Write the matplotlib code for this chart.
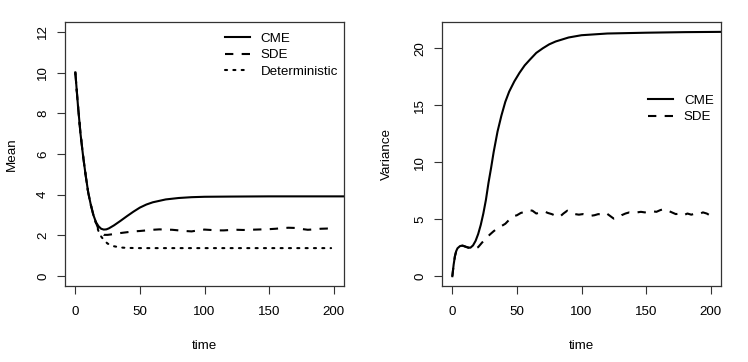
import numpy as np
import matplotlib
matplotlib.use("Agg")
import matplotlib.pyplot as plt

plt.rcParams['font.family'] = ['Liberation Sans', 'DejaVu Sans']
plt.rcParams['font.size'] = 9.6

# ---- Mean panel data ----
t_cme_mean = [0, 2, 4, 6, 8, 10, 12, 14, 16, 18, 20, 22, 24, 26, 30, 35, 40, 45,
              50, 55, 60, 70, 80, 90, 100, 120, 150, 180, 215]
cme_mean = [10.0, 8.4, 7.0, 5.9, 4.95, 4.1, 3.5, 3.0, 2.65, 2.45, 2.33, 2.29, 2.3,
            2.35, 2.5, 2.72, 2.95, 3.17, 3.37, 3.52, 3.63, 3.77, 3.84, 3.88, 3.9,
            3.91, 3.92, 3.92, 3.92]

t_sde_mean = [0, 2, 4, 6, 8, 10, 12, 14, 16, 18, 20, 22, 25, 30, 35, 40, 45, 50,
              55, 60, 65, 70, 75, 80, 85, 90, 95, 100, 105, 110, 115, 120, 125,
              130, 135, 140, 145, 150, 155, 160, 165, 170, 175, 180, 185, 190,
              195, 200]
sde_mean = [10.0, 8.4, 7.0, 5.9, 4.95, 4.1, 3.5, 3.0, 2.62, 2.3, 2.12, 2.03, 2.03,
            2.07, 2.12, 2.16, 2.2, 2.22, 2.25, 2.28, 2.3, 2.29, 2.28, 2.25, 2.22,
            2.2, 2.25, 2.29, 2.27, 2.25, 2.25, 2.27, 2.28, 2.27, 2.28, 2.29, 2.3,
            2.31, 2.33, 2.36, 2.38, 2.37, 2.32, 2.28, 2.3, 2.33, 2.34, 2.3]

t_det = [0, 2, 4, 6, 8, 10, 12, 14, 16, 18, 20, 22, 25, 30, 35, 40, 50, 100, 150, 198]
det_mean = [10.0, 8.4, 7.0, 5.9, 4.95, 4.1, 3.5, 3.0, 2.6, 2.2, 1.95, 1.78, 1.6,
            1.47, 1.41, 1.39, 1.38, 1.38, 1.38, 1.38]

# ---- Variance panel data ----
t_cme_var = [0, 1, 2, 3, 4, 6, 8, 10, 12, 14, 16, 18, 20, 22, 24, 26, 28, 30, 32,
             35, 38, 41, 44, 48, 52, 56, 60, 65, 70, 75, 80, 90, 100, 120, 150,
             180, 215]
cme_var = [0, 1.0, 1.75, 2.2, 2.45, 2.65, 2.68, 2.6, 2.52, 2.5, 2.7, 3.1, 3.7, 4.5,
           5.5, 6.7, 8.2, 9.5, 10.9, 12.7, 14.1, 15.3, 16.2, 17.1, 17.85, 18.5,
           19.0, 19.6, 20.0, 20.35, 20.6, 20.95, 21.15, 21.3, 21.37, 21.42, 21.45]

t_sde_var = [0, 1, 2, 3, 4, 6, 8, 10, 12, 14, 16, 18, 20,
             23, 26, 29, 32, 35, 38, 41, 44, 47, 50,
             53, 56, 59, 62, 65, 68, 71, 74, 77, 80,
             83, 86, 89, 92, 95, 98, 101, 104, 107, 110,
             113, 116, 119, 122, 125, 128, 131, 134, 137, 140,
             143, 146, 149, 152, 155, 158, 161, 164, 167, 170,
             173, 176, 179, 182, 185, 188, 191, 194, 197, 200]
sde_var = [0, 1.0, 1.75, 2.2, 2.45, 2.65, 2.68, 2.6, 2.52, 2.45, 2.4, 2.42, 2.55,
           2.95, 3.3, 3.65, 3.95, 4.2, 4.4, 4.6, 4.95, 5.25, 5.35,
           5.55, 5.65, 5.8, 5.75, 5.5, 5.6, 5.7, 5.55, 5.45, 5.3,
           5.2, 5.5, 5.75, 5.55, 5.45, 5.4, 5.45, 5.35, 5.3, 5.35,
           5.45, 5.4, 5.55, 5.3, 5.05, 5.1, 5.35, 5.5, 5.6, 5.55,
           5.6, 5.65, 5.6, 5.65, 5.7, 5.65, 5.8, 5.9, 5.75, 5.6,
           5.45, 5.5, 5.35, 5.5, 5.4, 5.5, 5.45, 5.6, 5.5, 5.3]

xticks = [0, 50, 100, 150, 200]

fig = plt.figure(figsize=(7.48, 3.62), dpi=100)
ax1 = fig.add_axes([65 / 748, 76 / 362, 279 / 748, 264 / 362])
ax2 = fig.add_axes([442 / 748, 76 / 362, 279 / 748, 264 / 362])

lw = 1.5
ax1.plot(t_cme_mean, cme_mean, color='black', lw=lw, label='CME')
ax1.plot(t_sde_mean, sde_mean, color='black', lw=lw, dashes=(4, 4), label='SDE')
ax1.plot(t_det, det_mean, color='black', lw=lw, dashes=(1, 3),
         dash_capstyle='round', label='Deterministic')
ax1.set_xlim(-8, 208)
ax1.set_ylim(-0.48, 12.48)
ax1.set_yticks([0, 2, 4, 6, 8, 10, 12])
ax1.set_ylabel('Mean', labelpad=13.5)

ax2.plot(t_cme_var, cme_var, color='black', lw=lw, label='CME')
ax2.plot(t_sde_var, sde_var, color='black', lw=lw, dashes=(4, 4), label='SDE')
ax2.set_xlim(-8, 208)
ax2.set_ylim(-0.86, 22.31)
ax2.set_yticks([0, 5, 10, 15, 20])
ax2.set_ylabel('Variance', labelpad=15)

for ax in (ax1, ax2):
    ax.set_xticks(xticks)
    ax.set_xlabel('time', labelpad=15.5)
    ax.tick_params(direction='out', length=5.5, width=0.8, color='#333333')
    ax.tick_params(axis='x', pad=9)
    ax.tick_params(axis='y', pad=6)
    for lab in ax.get_yticklabels():
        lab.set_rotation(90)
        lab.set_va('center')
    for sp in ax.spines.values():
        sp.set_color('#333333')
        sp.set_linewidth(0.9)

ax1.legend(loc='upper left', bbox_to_anchor=(0.573, 0.96), frameon=False,
           borderpad=0, handlelength=1.85, handletextpad=0.85, labelspacing=0.3,
           borderaxespad=0)
ax2.legend(loc='upper left', bbox_to_anchor=(0.738, 0.725), frameon=False,
           borderpad=0, handlelength=1.85, handletextpad=0.85, labelspacing=0.3,
           borderaxespad=0)

fig.savefig('out.png', dpi=100)
